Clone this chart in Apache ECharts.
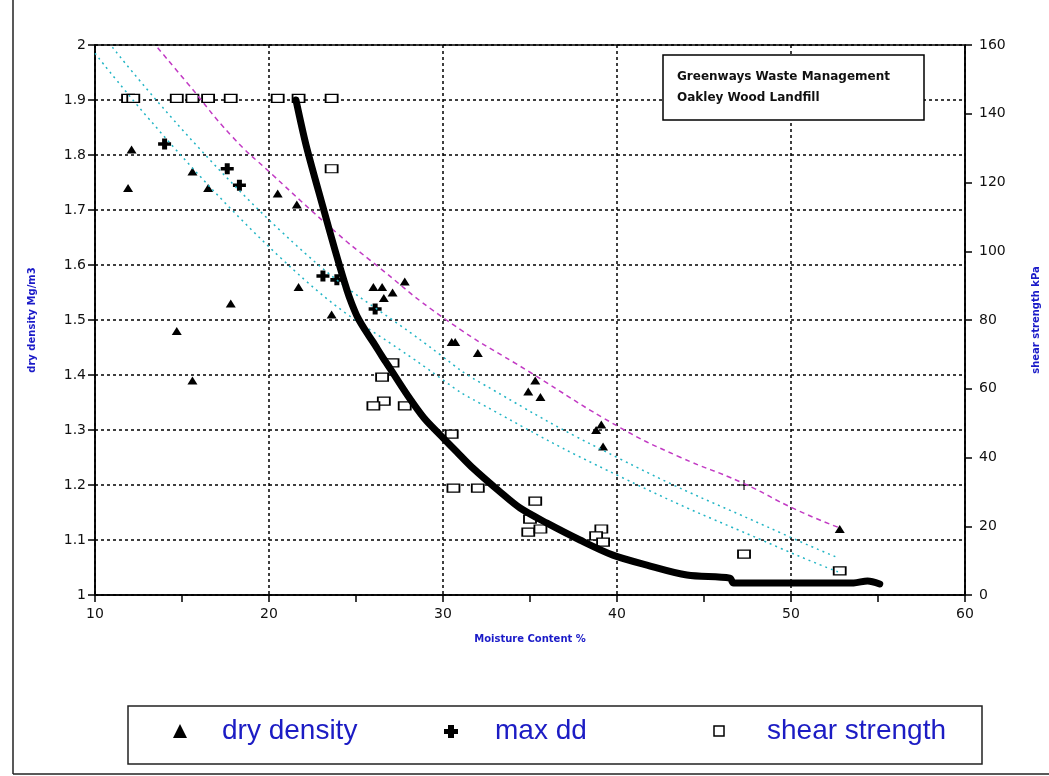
<!DOCTYPE html>
<html>
<head>
<meta charset="utf-8">
<title>Oakley Wood Landfill</title>
<script src="https://cdn.jsdelivr.net/npm/echarts@6/dist/echarts.min.js"></script>
<style>
  html, body { margin: 0; padding: 0; background: #fff; }
  #chart { width: 1049px; height: 776px; }
</style>
</head>
<body>
<div id="chart"></div>
<script>
// measured points: [moisture %, dry density Mg/m3]
const dryDensity = [
  [12.1, 1.81], [11.9, 1.74], [15.6, 1.77], [16.5, 1.74], [20.5, 1.73], [21.6, 1.71],
  [14.7, 1.48], [15.6, 1.39], [17.8, 1.53], [21.7, 1.56], [23.6, 1.51],
  [26.0, 1.56], [26.5, 1.56], [26.6, 1.54], [27.1, 1.55], [27.8, 1.57],
  [30.5, 1.46], [30.7, 1.46], [32.0, 1.44], [35.3, 1.39], [34.9, 1.37], [35.6, 1.36],
  [39.1, 1.31], [38.8, 1.30], [39.2, 1.27], [52.8, 1.12]
]
const maxDd = [
  [14.0, 1.82], [17.6, 1.775], [18.3, 1.745], [23.1, 1.58], [23.9, 1.573], [26.1, 1.52]
]
const thinPoint = [[47.3, 1.2]]

// [moisture %, shear strength kPa]
const shearStrength = [
  [11.9, 144.5], [12.2, 144.5], [14.7, 144.5], [15.6, 144.5], [16.5, 144.5], [17.8, 144.5],
  [20.5, 144.5], [21.7, 144.5], [23.6, 144.5], [23.6, 124],
  [27.1, 67.5], [26.5, 63.4], [26.6, 56.4], [26.0, 55], [27.8, 55], [30.5, 46.8],
  [30.6, 31.1], [32.0, 31.1], [35.3, 27.3], [35.0, 22.1], [34.9, 18.3], [35.6, 19.2],
  [39.1, 19.2], [38.8, 17.2], [39.2, 15.4], [47.3, 11.9], [52.8, 7.0]
]

// fitted curves
const shearCurve = [
  [21.55, 144], [22.13, 130.9], [23.1, 112.9], [23.79, 100.4], [24.48, 88.7], [24.77, 84.6],
  [25.11, 80.6], [25.52, 77.1], [25.98, 73.6], [26.49, 69.5], [27.01, 65.5], [27.99, 57.9],
  [28.91, 51.5], [29.89, 46.3], [30.8, 41.6], [31.72, 36.9], [33.28, 30.0], [34.43, 25.3],
  [35.98, 20.9], [37.87, 16.0], [39.77, 11.6], [41.72, 8.7], [44.02, 5.8], [46.49, 4.9],
  [46.7, 3.5], [53.6, 3.5], [54.4, 4.1], [55.1, 3.2]
]
const magentaLine = [
  [13.6, 1.995], [15.3, 1.931], [17.9, 1.833], [20.1, 1.767], [23.9, 1.658], [25.8, 1.609],
  [30.2, 1.5], [35.0, 1.405], [40.2, 1.304], [43.6, 1.251], [47.2, 1.204], [50.3, 1.155], [52.8, 1.122]
]
const cyanUpper = [
  [11.0, 1.996], [20.6, 1.664], [30, 1.433], [32.1, 1.387], [40.2, 1.247], [49.4, 1.113], [52.6, 1.069]
]
const cyanLower = [
  [10, 1.985], [20.6, 1.615], [30, 1.391], [32.1, 1.349], [40.2, 1.215], [49.4, 1.085], [52.7, 1.042]
]

const legendNames = ['dry density', 'max dd', 'shear strength']
const boxLines = ['Greenways Waste Management', 'Oakley Wood Landfill']

const tickFont = { fontFamily: 'DejaVu Sans', fontSize: 14, color: '#111' }
const nameFont = { fontFamily: 'DejaVu Sans', fontSize: 10, fontWeight: 'bold', color: '#1a1ac8' }
const gridLine = { show: true, lineStyle: { color: '#000', width: 1.5, type: [3, 3] } }
const axisLine = { show: true, lineStyle: { color: '#000', width: 1.5 } }
const plusPath = 'path://M4,0H9V4H13V8H9V12H4V8H0V4H4Z'
const thinPlusPath = 'path://M4,0H5V4H9V5H5V9H4V5H0V4H4Z'

const chart = echarts.init(document.getElementById('chart'))

const legendText = (x, text) => ({
  type: 'text', x: x, y: 731,
  style: { text, fontFamily: 'Liberation Sans', fontSize: 28, fill: '#1c1cc4', verticalAlign: 'middle' }
})

chart.setOption({
  animation: false,
  backgroundColor: '#fff',
  grid: { left: 95, right: 84, top: 45, bottom: 181, show: true, borderColor: '#000', borderWidth: 1.5 },
  xAxis: {
    type: 'value', min: 10, max: 60, interval: 10,
    name: 'Moisture Content %', nameLocation: 'middle', nameGap: 39, nameTextStyle: nameFont,
    axisLine, axisTick: { show: true, length: 7, lineStyle: { color: '#000', width: 1.5 } },
    minorTick: { show: true, splitNumber: 2, length: 7, lineStyle: { color: '#000', width: 1.5 } },
    axisLabel: { ...tickFont, margin: 12 },
    splitLine: gridLine
  },
  yAxis: [
    {
      type: 'value', min: 1, max: 2, interval: 0.1,
      name: 'dry density Mg/m3', nameLocation: 'middle', nameRotate: 90, nameGap: 58, nameTextStyle: nameFont,
      axisLine, axisTick: { show: true, length: 7, lineStyle: { color: '#000', width: 1.5 } },
      axisLabel: { ...tickFont, margin: 9, formatter: v => String(Math.round(v * 10) / 10) },
      splitLine: gridLine
    },
    {
      type: 'value', min: 0, max: 160, interval: 20, position: 'right',
      name: 'shear strength kPa', nameLocation: 'middle', nameRotate: 90, nameGap: 66, nameTextStyle: nameFont,
      axisLine, axisTick: { show: true, length: 7, lineStyle: { color: '#000', width: 1.5 } },
      axisLabel: { ...tickFont, margin: 14 },
      splitLine: { show: false }
    }
  ],
  series: [
    {
      type: 'line', data: cyanUpper, smooth: true, symbol: 'none', yAxisIndex: 0,
      lineStyle: { color: '#22b5c5', width: 1.5, type: [2, 4] }
    },
    {
      type: 'line', data: cyanLower, smooth: true, symbol: 'none', yAxisIndex: 0,
      lineStyle: { color: '#22b5c5', width: 1.5, type: [2, 4] }
    },
    {
      type: 'line', data: magentaLine, smooth: true, symbol: 'none', yAxisIndex: 0,
      lineStyle: { color: '#c23bc4', width: 1.5, type: [5, 4] }
    },
    {
      type: 'line', data: shearCurve, symbol: 'none', yAxisIndex: 1, smooth: 0.3,
      lineStyle: { color: '#000', width: 7, join: 'round', cap: 'round' }
    },
    {
      name: legendNames[0], type: 'scatter', data: dryDensity, yAxisIndex: 0,
      symbol: 'triangle', symbolSize: [10, 8], itemStyle: { color: '#000', opacity: 1 }
    },
    {
      name: legendNames[1], type: 'scatter', data: maxDd, yAxisIndex: 0,
      symbol: plusPath, symbolSize: [13, 11], itemStyle: { color: '#000', opacity: 1 }
    },
    {
      type: 'scatter', data: thinPoint, yAxisIndex: 0,
      symbol: thinPlusPath, symbolSize: 10, itemStyle: { color: '#000', opacity: 1 }
    },
    {
      name: legendNames[2], type: 'scatter', data: shearStrength, yAxisIndex: 1,
      symbol: 'rect', symbolSize: [12, 8],
      itemStyle: { color: '#fff', borderColor: '#000', borderWidth: 1.5, opacity: 1 }
    }
  ],
  graphic: [
    // outer frame
    { type: 'line', shape: { x1: 13, y1: 0, x2: 13, y2: 774 }, style: { stroke: '#222', lineWidth: 1.5 } },
    { type: 'line', shape: { x1: 13, y1: 774, x2: 1049, y2: 774 }, style: { stroke: '#222', lineWidth: 1.5 } },
    // title box
    {
      type: 'rect', shape: { x: 663, y: 55, width: 261, height: 65 }, z: 10,
      style: { fill: '#fff', stroke: '#000', lineWidth: 1.5 }
    },
    {
      type: 'text', x: 677, y: 66, z: 11,
      style: { text: boxLines.join('\n'), fontFamily: 'DejaVu Sans', fontSize: 12, fontWeight: 'bold', lineHeight: 21, fill: '#111' }
    },
    // legend box
    {
      type: 'rect', shape: { x: 128, y: 706, width: 854, height: 58 },
      style: { fill: '#fff', stroke: '#222', lineWidth: 1.5 }
    },
    { type: 'polygon', shape: { points: [[180, 724], [187, 738], [173, 738]] }, style: { fill: '#000' } },
    {
      type: 'polygon',
      shape: { points: [[448, 725], [454, 725], [454, 729], [458, 729], [458, 734], [454, 734], [454, 738], [448, 738], [448, 734], [444, 734], [444, 729], [448, 729]] },
      style: { fill: '#000' }
    },
    { type: 'rect', shape: { x: 714, y: 726, width: 10, height: 10 }, style: { fill: '#fff', stroke: '#000', lineWidth: 1.5 } },
    legendText(222, legendNames[0]),
    legendText(495, legendNames[1]),
    legendText(767, legendNames[2])
  ]
})
</script>
</body>
</html>
